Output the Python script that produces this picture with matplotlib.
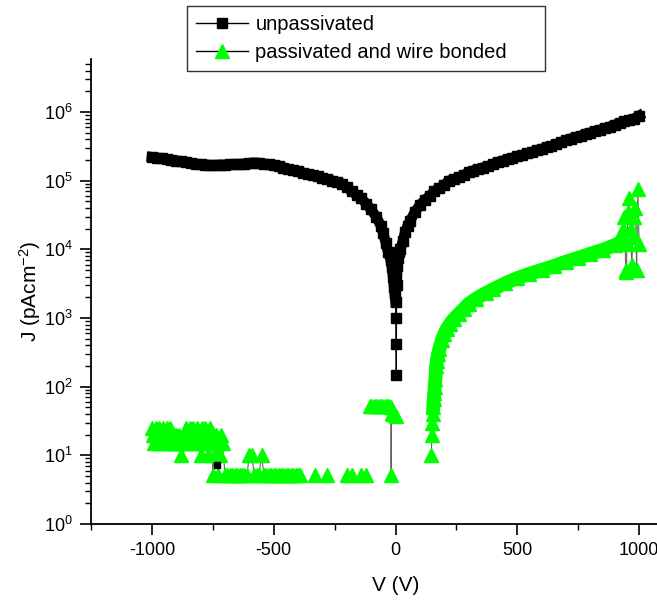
import numpy as np
import matplotlib
matplotlib.use("Agg")
from matplotlib import pyplot as plt
from matplotlib.lines import Line2D
from matplotlib.ticker import LogLocator, MultipleLocator

plt.rcParams['font.family'] = ['Liberation Sans', 'DejaVu Sans']
plt.rcParams['mathtext.fontset'] = 'custom'
plt.rcParams['mathtext.rm'] = 'Liberation Sans'
plt.rcParams['mathtext.it'] = 'Liberation Sans'
plt.rcParams['axes.unicode_minus'] = False

# unpassivated device: V (V) and J (pA/cm^2)
v_unpass = [-1000, -980, -960, -940, -920, -900, -880, -860, -840, -820,
            -800, -780, -760, -740, -720, -700, -680, -660, -640, -620,
            -600, -580, -560, -540, -520, -500, -480, -460, -440, -420,
            -400, -380, -360, -340, -320, -300, -280, -260, -240, -220,
            -200, -180, -160, -140, -120, -100, -80, -60, -50, -40,
            -30, -20, -15, -10, -6, -3, 0, 1, 2, 3,
            5, 8, 12, 16, 20, 30, 40, 50, 60, 80,
            100, 120, 140, 160, 180, 200, 220, 240, 260, 280,
            300, 320, 340, 360, 380, 400, 420, 440, 460, 480,
            500, 520, 540, 560, 580, 600, 620, 640, 660, 680,
            700, 720, 740, 760, 780, 800, 820, 840, 860, 880,
            900, 920, 940, 960, 980, 1000]
j_unpass = [2.2e5, 2.15e5, 2.1e5, 2.05e5, 2.0e5, 1.95e5, 1.9e5, 1.85e5, 1.8e5, 1.75e5,
            1.72e5, 1.7e5, 1.68e5, 1.68e5, 1.7e5, 1.7e5, 1.72e5, 1.72e5, 1.74e5, 1.76e5,
            1.8e5, 1.82e5, 1.8e5, 1.75e5, 1.72e5, 1.7e5, 1.65e5, 1.55e5, 1.47e5, 1.42e5,
            1.36e5, 1.3e5, 1.25e5, 1.2e5, 1.15e5, 1.1e5, 1.05e5, 1.0e5, 9.6e4, 9.0e4,
            8.0e4, 7.0e4, 6.2e4, 5.5e4, 4.6e4, 3.8e4, 3.0e4, 2.2e4, 1.7e4, 1.25e4,
            9.0e3, 7.0e3, 5.5e3, 4.0e3, 2.8e3, 2.2e3, 1.7e3, 1.0e3, 4.2e2, 1.5e2,
            3.0e3, 5.8e3, 7.5e3, 9.0e3, 1.0e4, 1.3e4, 1.8e4, 2.2e4, 2.6e4, 3.5e4,
            4.4e4, 5.2e4, 6.0e4, 7.0e4, 7.8e4, 8.6e4, 1.0e5, 1.05e5, 1.12e5, 1.2e5,
            1.32e5, 1.4e5, 1.48e5, 1.55e5, 1.62e5, 1.75e5, 1.85e5, 1.95e5, 2.05e5, 2.15e5,
            2.25e5, 2.35e5, 2.5e5, 2.63e5, 2.75e5, 2.9e5, 3.05e5, 3.2e5, 3.4e5, 3.6e5,
            3.9e5, 4.1e5, 4.3e5, 4.5e5, 4.8e5, 5.0e5, 5.3e5, 5.5e5, 5.8e5, 6.1e5,
            6.5e5, 6.9e5, 7.3e5, 7.7e5, 8.0e5, 8.8e5]

# passivated and wire bonded device (nan = no positive reading)
v_pass = [-1000, -995, -990, -985, -980, -975, -970, -965, -960, -955,
          -950, -945, -940, -935, -930, -925, -920, -915, -910, -905,
          -900, -895, -890, -885, -880, -875, -870, -865, -860, -855,
          -850, -845, -840, -835, -830, -825, -820, -815, -810, -805,
          -800, -795, -790, -785, -780, -775, -770, -765, -760, -755,
          -750, -745, -740, -735, -730, -725, -720, -715, -710,
          -700, -690, -680, -670, -660, -650, -640, -630, -620, -610,
          -600, -590, -580, -570, -560, -550, -540, -530, -520, -510,
          -500, -490, -480, -470, -460, -450, -440, -430, -420, -410,
          -400, -390, -380, -330, -320, -280, -270, -200, -190, -180,
          -170, -140, -130, -120, -110,
          -105, -95, -85, -75, -65, -55, -45, -35, -25, -20,
          -18, -16, -10, -5, 0, 60,
          147, 149, 151, 153, 155, 157, 159, 161, 164, 167,
          170, 175, 180, 190, 200, 210, 225, 240, 260, 280,
          300, 330, 370, 400, 450, 500, 550, 600, 650, 700,
          750, 800, 850, 900, 930, 935, 940, 945, 948, 950,
          955, 960, 965, 970, 975, 980, 985, 990, 995, 1000]
j_pass = [25, 20, 15, 25, 20, 15, 25, 20, 15, 25,
          20, 15, 25, 20, 15, 25, 20, 15, 20, 15,
          20, 15, 20, 15, 10, 15, 20, 15, 25, 20,
          15, 25, 20, 15, 25, 20, 15, 25, 20, 15,
          10, 25, 20, 15, 25, 20, 10, 15, 25, 20,
          5.2, 15, 10, 20, 5.2, 15, 10, 20, 15,
          5.2, 5.2, 5.2, 5.2, 5.2, 5.2, 5.2, 5.2, 5.2, 5.2,
          10, 10, 5.2, 5.2, 5.2, 10, 5.2, 5.2, 5.2, 5.2,
          5.2, 5.2, 5.2, 5.2, 5.2, 5.2, 5.2, 5.2, 5.2, 5.2,
          5.2, 5.2, np.nan, 5.2, np.nan, 5.2, np.nan, 5.2, np.nan, 5.2,
          np.nan, 5.2, np.nan, 5.2, np.nan,
          52, 52, 52, 52, 52, 52, 52, 52, 52, 50,
          5.2, 42, 40, 40, 38, np.nan,
          10, 20, 30, 40, 50, 65, 80, 100, 130, 200,
          240, 300, 350, 470, 580, 690, 830, 970, 1150, 1350,
          1600, 1900, 2300, 2600, 3200, 3800, 4400, 5000, 5700, 6600,
          7500, 8600, 9800, 1.15e4, 1.3e4, 2.0e4, 3.0e4, 5.0e3, 4.7e3, 1.2e4,
          3.5e4, 5.5e4, 2.0e4, 6.0e3, 1.5e4, 3.0e4, 4.0e4, 5.0e3, 7.5e4, 1.2e4]

# single black reading that sits among the low passivated points
v_stray = [-731]
j_stray = [7.3]

green = '#00ff00'
vu = np.array(v_unpass)
ju = np.array(j_unpass)
vp = np.array(v_pass)
jp = np.array(j_pass)

fig = plt.figure(figsize=(6.57, 6.0), dpi=100)
ax = fig.add_axes([91 / 657, 76 / 600, 609 / 657, 465 / 600])

# thin connecting lines sit underneath everything
ax.plot(vu, ju, color='black', lw=0.8, zorder=1)
ax.plot(vp, jp, color='0.4', lw=0.8, zorder=1)

# the measured points are packed so tightly they merge into a solid trace;
# a wide stroke of the marker colour fills the smooth stretches
left = vu <= 0
right = vu >= 5
ax.plot(vu[left], ju[left], color='black', lw=7.5, solid_joinstyle='round', zorder=2)
ax.plot(vu[right], ju[right], color='black', lw=7.5, solid_joinstyle='round', zorder=2)
rise = (vp >= 155) & (vp <= 930)
ax.plot(vp[rise], jp[rise], color=green, lw=10, solid_joinstyle='round', zorder=3)

ax.plot(vu, ju, ls='none', marker='s', ms=7, mfc='black', mec='black', zorder=2)
ax.plot(vp, jp, ls='none', marker='^', ms=9.5, mfc=green, mec=green, zorder=3)
ax.plot(v_stray, j_stray, ls='none', marker='s', ms=4, color='black', zorder=4)

ax.set_yscale('log')
ax.set_xlim(-1250, 1250)
ax.set_ylim(1, 5.9e6)
ax.xaxis.set_major_locator(MultipleLocator(500))
ax.xaxis.set_minor_locator(MultipleLocator(250))
ax.yaxis.set_major_locator(LogLocator(base=10, numticks=20))
ax.yaxis.set_minor_locator(LogLocator(base=10, subs=np.arange(2, 10), numticks=20))

for side in ['top', 'right']:
    ax.spines[side].set_visible(False)
for side in ['left', 'bottom']:
    ax.spines[side].set_linewidth(1.3)

ax.tick_params(which='major', direction='out', length=8, width=1.2, labelsize=13)
ax.tick_params(which='minor', direction='out', length=4, width=1.0)
ax.tick_params(axis='x', which='major', pad=5)
ax.tick_params(axis='y', which='major', pad=5)

ax.set_xlabel('V (V)', fontsize=15, labelpad=12)
ax.set_ylabel('J (pAcm$^{-2}$)', fontsize=15, labelpad=1)

handles = [
    Line2D([], [], color='black', lw=1.0, marker='s', ms=7, mfc='black', mec='black'),
    Line2D([], [], color='black', lw=1.0, marker='^', ms=9.5, mfc=green, mec=green),
]
labels = ['unpassivated', 'passivated and wire bonded']
leg = fig.legend(handles, labels, loc='upper left',
                 bbox_to_anchor=(187 / 657, 1 - 6 / 600, 358 / 657, 0),
                 mode='expand', fontsize=14.5, frameon=True, fancybox=False, numpoints=1,
                 handlelength=2.6, handletextpad=0.35, borderpad=0.45,
                 labelspacing=0.45, borderaxespad=0)
leg.get_frame().set_edgecolor('black')
leg.get_frame().set_linewidth(1.0)

fig.savefig('out.png', dpi=100)
